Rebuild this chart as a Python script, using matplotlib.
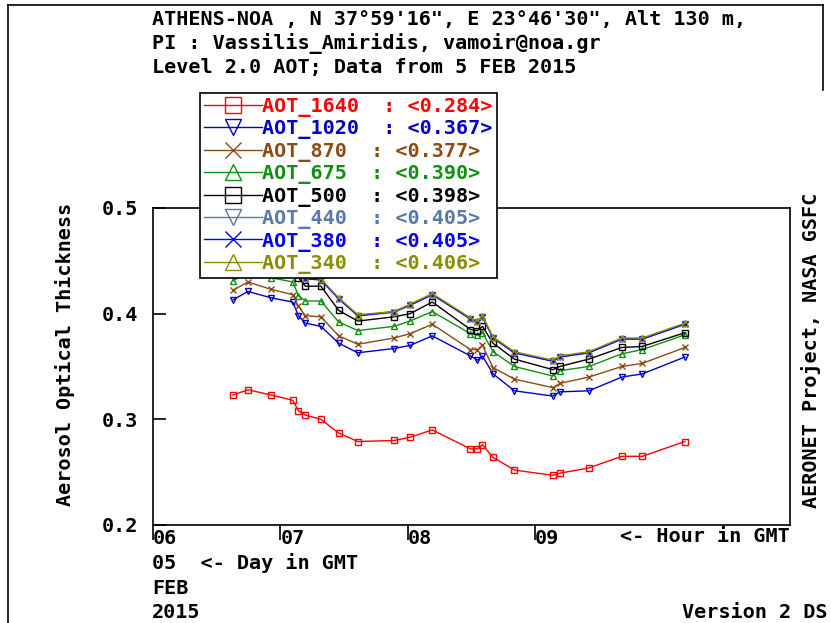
import matplotlib
matplotlib.use('Agg')
import matplotlib.pyplot as plt
from matplotlib.lines import Line2D

plt.rcParams['font.family'] = 'DejaVu Sans Mono'
plt.rcParams['font.weight'] = 'bold'
FS = 14.5

# time of measurement, hours GMT on 5 FEB 2015
hours = [6.627, 6.745, 6.927, 7.097, 7.142, 7.197, 7.318, 7.458, 7.608, 7.892, 8.018, 8.192,
         8.492, 8.547, 8.586, 8.669, 8.837, 9.139, 9.192, 9.421, 9.680, 9.841, 10.175]

aot_1640 = [0.323, 0.328, 0.323, 0.318, 0.308, 0.304, 0.300, 0.287, 0.279, 0.280, 0.283, 0.290,
            0.272, 0.272, 0.276, 0.264, 0.252, 0.247, 0.249, 0.254, 0.265, 0.265, 0.279]
aot_1020 = [0.413, 0.421, 0.415, 0.411, 0.398, 0.391, 0.388, 0.372, 0.363, 0.367, 0.370, 0.379,
            0.360, 0.356, 0.360, 0.343, 0.327, 0.322, 0.326, 0.327, 0.340, 0.343, 0.359]
aot_870 = [0.422, 0.430, 0.423, 0.418, 0.407, 0.398, 0.397, 0.379, 0.371, 0.377, 0.381, 0.390,
           0.366, 0.366, 0.370, 0.349, 0.338, 0.330, 0.334, 0.340, 0.350, 0.353, 0.368]
aot_675 = [0.431, 0.439, 0.434, 0.430, 0.417, 0.412, 0.412, 0.392, 0.384, 0.388, 0.393, 0.402,
           0.381, 0.380, 0.382, 0.364, 0.350, 0.341, 0.346, 0.350, 0.362, 0.366, 0.380]
aot_500 = [0.438, 0.446, 0.441, 0.440, 0.434, 0.426, 0.426, 0.403, 0.393, 0.397, 0.400, 0.411,
           0.385, 0.384, 0.388, 0.372, 0.357, 0.347, 0.350, 0.357, 0.368, 0.369, 0.382]
aot_440 = [0.444, 0.452, 0.447, 0.444, 0.439, 0.433, 0.432, 0.414, 0.398, 0.401, 0.408, 0.418,
           0.395, 0.392, 0.397, 0.377, 0.363, 0.355, 0.359, 0.363, 0.376, 0.376, 0.390]
aot_380 = [0.444, 0.452, 0.447, 0.444, 0.439, 0.433, 0.432, 0.414, 0.398, 0.402, 0.408, 0.418,
           0.395, 0.392, 0.397, 0.377, 0.363, 0.355, 0.359, 0.363, 0.376, 0.376, 0.390]
aot_340 = [0.445, 0.453, 0.448, 0.445, 0.440, 0.434, 0.433, 0.415, 0.399, 0.402, 0.409, 0.419,
           0.396, 0.393, 0.398, 0.378, 0.364, 0.356, 0.360, 0.364, 0.377, 0.377, 0.391]

names = ['AOT_1640', 'AOT_1020', 'AOT_870', 'AOT_675', 'AOT_500', 'AOT_440', 'AOT_380', 'AOT_340']
means = ['0.284', '0.367', '0.377', '0.390', '0.398', '0.405', '0.405', '0.406']
series = [aot_1640, aot_1020, aot_870, aot_675, aot_500, aot_440, aot_380, aot_340]
colors = ['#ff0000', '#0000c8', '#8c4a14', '#109010', '#000000', '#5a78a8', '#0000ff', '#8c8c00']
markers = ['s', 'v', 'x', '^', 's', 'v', 'x', '^']

W, H = 831, 623
fig = plt.figure(figsize=(W / 100, H / 100), dpi=100)
ax = fig.add_axes([153 / W, 1 - 525 / H, (790 - 153) / W, (525 - 208) / H])

handles = []
for name, m, ys, c, mk in zip(names, means, series, colors, markers):
    h, = ax.plot(hours, ys, color=c, marker=mk, markersize=5, markerfacecolor='none',
                 markeredgewidth=1.0, lw=1.0, label=f'{name}  : <{m}>')
    handles.append(h)

ax.set_xlim(6, 11)
ax.set_ylim(0.2, 0.5)
ax.set_yticks([0.2, 0.3, 0.4, 0.5])
ax.set_yticklabels(['0.2', '0.3', '0.4', '0.5'], fontsize=FS)
ax.set_xticks([6, 7, 8, 9])
ax.set_xticklabels(['06', '07', '08', '09'], fontsize=FS, ha='left')
ax.tick_params(axis='y', direction='in', length=9.5, width=1.2, pad=11)
ax.tick_params(axis='x', direction='out', length=11, width=1.2, pad=-8)
for s in ax.spines.values():
    s.set_linewidth(1.2)

leg = fig.legend(handles=handles, loc='upper left', bbox_to_anchor=(200 / W, 1 - 93 / H),
                 borderaxespad=0, fontsize=FS, handlelength=2.9, handletextpad=0.0,
                 labelspacing=0.12, borderpad=0.2, markerscale=2.2, fancybox=False,
                 framealpha=1, edgecolor='black')
leg.get_frame().set_linewidth(1.2)
for t, c in zip(leg.get_texts(), colors):
    t.set_color(c)

# header
fig.text(152 / W, 1 - 20 / H, 'ATHENS-NOA , N 37°59\'16", E 23°46\'30", Alt 130 m,',
         fontsize=FS, va='center')
fig.text(152 / W, 1 - 44 / H, 'PI : Vassilis_Amiridis, vamoir@noa.gr', fontsize=FS, va='center')
fig.text(152 / W, 1 - 68 / H, 'Level 2.0 AOT; Data from 5 FEB 2015', fontsize=FS, va='center')

fig.text(65 / W, 1 - 354 / H, 'Aerosol Optical Thickness', fontsize=FS, rotation=90,
         ha='center', va='center')
fig.text(811 / W, 1 - 350 / H, 'AERONET Project, NASA GSFC', fontsize=FS, rotation=90,
         ha='center', va='center')

fig.text(790 / W, 1 - 537 / H, '<- Hour in GMT', fontsize=FS, ha='right', va='center')
fig.text(152 / W, 1 - 563 / H, '05  <- Day in GMT', fontsize=FS, va='center')
fig.text(152 / W, 1 - 588 / H, 'FEB', fontsize=FS, va='center')
fig.text(152 / W, 1 - 612 / H, '2015', fontsize=FS, va='center')
fig.text(828 / W, 1 - 612 / H, 'Version 2 DS', fontsize=FS, ha='right', va='center')

# outer frame
fig.add_artist(Line2D([8 / W, 8 / W], [0, 1 - 5 / H], color='black', lw=1.2))
fig.add_artist(Line2D([8 / W, 823 / W], [1 - 5 / H, 1 - 5 / H], color='black', lw=1.2))
fig.add_artist(Line2D([823 / W, 823 / W], [1 - 5 / H, 1 - 90 / H], color='black', lw=1.2))

fig.savefig('out.png', dpi=100)
